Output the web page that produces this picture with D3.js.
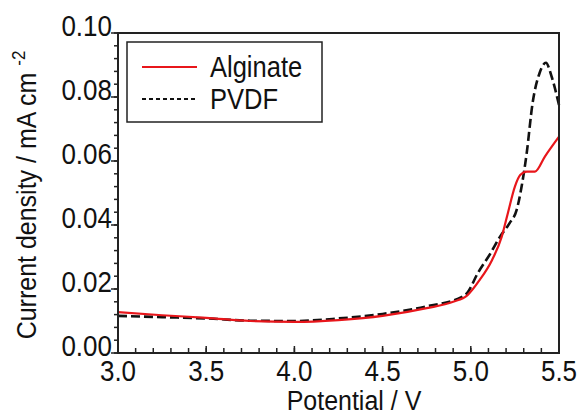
<!DOCTYPE html>
<html><head><meta charset="utf-8">
<script src="https://cdn.jsdelivr.net/npm/d3@7"></script>
<style>body{margin:0;background:#fff}svg{display:block}text{font-family:"Liberation Sans",Arial,sans-serif;fill:#111}</style>
</head><body><svg id="c" width="578" height="415"></svg>
<script>
const alginateV = [3.0,3.25,3.5,3.75,4.0,4.25,4.5,4.75,4.9,4.98,5.05,5.12,5.175,5.21,5.25,5.28,5.317,5.364,5.42,5.5];
const alginateJ = [0.0128,0.0118,0.0110,0.0100,0.0097,0.0103,0.0116,0.0140,0.0160,0.0180,0.0228,0.0290,0.0363,0.0437,0.0520,0.0556,0.0567,0.0567,0.0614,0.0676];
const pvdfV = [3.0,3.25,3.5,3.75,4.0,4.25,4.5,4.75,4.95,4.98,5.04,5.11,5.165,5.22,5.26,5.288,5.317,5.35,5.39,5.426,5.458,5.5];
const pvdfJ = [0.0116,0.0112,0.0108,0.0101,0.0100,0.0108,0.0122,0.0146,0.0175,0.0188,0.0250,0.0310,0.0363,0.0406,0.0447,0.0520,0.0625,0.0780,0.0875,0.0907,0.0864,0.0775];
const xTicks = [3.0,3.5,4.0,4.5,5.0,5.5];
const yTicks = [0.00,0.02,0.04,0.06,0.08,0.10];
const seriesNames = ["Alginate","PVDF"];

const svg = d3.select("#c");
const L=118,R=559,T=33,B=353;
const x = d3.scaleLinear().domain([3.0,5.5]).range([L,R]);
const y = d3.scaleLinear().domain([0,0.10]).range([B,T]);

function stretched(parent, px, py, sx, sy){
  return parent.append("text").attr("transform",`translate(${px},${py}) scale(${sx},${sy})`);
}

// minor ticks
const xMinor = d3.range(30,56).map(d=>d/10);
const yMinor = d3.range(0,26).map(d=>d*0.004);
const g = svg.append("g");
g.selectAll(".xm").data(xMinor).enter().append("line")
 .attr("x1",d=>x(d)).attr("x2",d=>x(d)).attr("y1",B).attr("y2",B-5)
 .attr("stroke","#222").attr("stroke-width",1.5);
g.selectAll(".ym").data(yMinor).enter().append("line")
 .attr("x1",L).attr("x2",L-4).attr("y1",d=>y(d)).attr("y2",d=>y(d))
 .attr("stroke","#222").attr("stroke-width",1.5);
g.selectAll(".yM").data(yTicks).enter().append("line")
 .attr("x1",L).attr("x2",L-7).attr("y1",d=>y(d)).attr("y2",d=>y(d))
 .attr("stroke","#222").attr("stroke-width",1.5);
g.selectAll(".xM").data(xTicks).enter().append("line")
 .attr("x1",d=>x(d)).attr("x2",d=>x(d)).attr("y1",B).attr("y2",B-7)
 .attr("stroke","#222").attr("stroke-width",1.5);

// tick labels
xTicks.forEach(d=>{
  stretched(g, x(d), B+28, 1, 1.12).attr("text-anchor","middle").attr("font-size",26).text(d.toFixed(1));
});
yTicks.forEach(d=>{
  stretched(g, L-6, y(d)+3, 1, 1.12).attr("text-anchor","end").attr("font-size",26).text(d.toFixed(2));
});

// curves
const line = d3.line().x(d=>x(d[0])).y(d=>y(d[1])).curve(d3.curveMonotoneX);
const pvdf = pvdfV.map((v,i)=>[v,pvdfJ[i]]);
const alg = alginateV.map((v,i)=>[v,alginateJ[i]]);
svg.append("path").attr("d",line(pvdf)).attr("fill","none").attr("stroke","#111")
 .attr("stroke-width",2.6).attr("stroke-dasharray","9,4");
svg.append("path").attr("d",line(alg)).attr("fill","none").attr("stroke","#e8161b")
 .attr("stroke-width",2.2);

// frame
svg.append("rect").attr("x",L).attr("y",T).attr("width",R-L).attr("height",B-T)
 .attr("fill","none").attr("stroke","#222").attr("stroke-width",2);

// legend
const lg = svg.append("g");
lg.append("rect").attr("x",127).attr("y",42).attr("width",195).attr("height",80)
 .attr("fill","#fff").attr("stroke","#222").attr("stroke-width",1.5);
lg.append("line").attr("x1",142).attr("x2",197).attr("y1",67).attr("y2",67)
 .attr("stroke","#e8161b").attr("stroke-width",2);
lg.append("line").attr("x1",142).attr("x2",197).attr("y1",99).attr("y2",99)
 .attr("stroke","#111").attr("stroke-width",2).attr("stroke-dasharray","4,3");
stretched(lg, 210, 77, 0.88, 1).attr("font-size",29).text(seriesNames[0]);
stretched(lg, 210, 109, 0.88, 1).attr("font-size",29).text(seriesNames[1]);

// axis titles
stretched(svg, 354, 410, 1, 1.12).attr("text-anchor","middle").attr("font-size",25).text("Potential / V");
const yt = svg.append("text").attr("transform","translate(36,195) rotate(-90) scale(1,1.12)")
 .attr("text-anchor","middle").attr("font-size",25);
yt.append("tspan").text("Current density / mA cm ");
yt.append("tspan").attr("font-size",17).attr("dy",-10).text("-2");
</script></body></html>
